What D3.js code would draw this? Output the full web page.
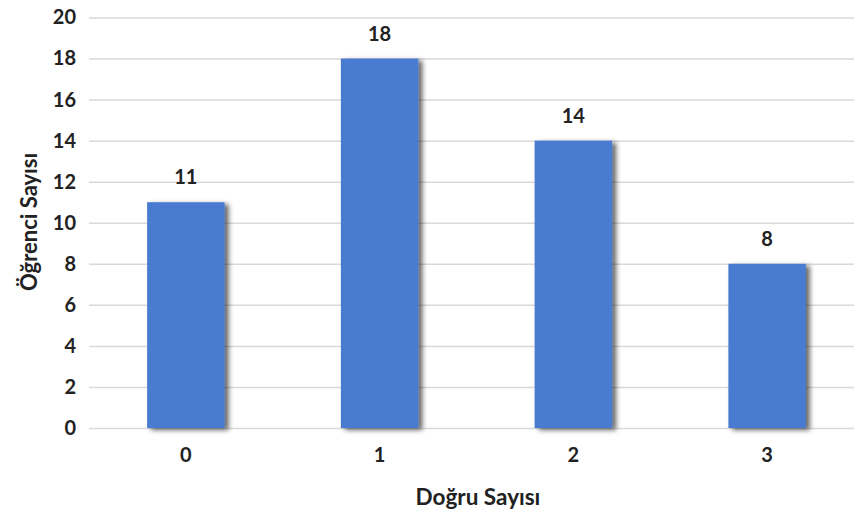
<!DOCTYPE html>
<html>
<head>
<meta charset="utf-8">
<script src="https://cdn.jsdelivr.net/npm/d3@7"></script>
<style>
  html, body { margin: 0; padding: 0; background: #fff; }
  svg { display: block; }
  text { font-family: Lato, "Open Sans", sans-serif; font-weight: 700; fill: #222; }
</style>
</head>
<body>
<svg id="chart" width="854" height="516"></svg>
<script>
// Number of correct answers (category) and number of students
const categories = ["0", "1", "2", "3"];
const studentCounts = [11, 18, 14, 8];
const yTicks = [0, 2, 4, 6, 8, 10, 12, 14, 16, 18, 20];
const xTitle = "Doğru Sayısı";
const yTitle = "Öğrenci Sayısı";

const svg = d3.select("#chart");
const W = 854, H = 516;
const plot = { left: 89, right: 864, top: 17.5, bottom: 428 };

const x = d3.scaleBand()
  .domain(categories)
  .range([plot.left, plot.right])
  .paddingInner(0.6)
  .paddingOuter(0.3);

const y = d3.scaleLinear()
  .domain([0, 20])
  .range([plot.bottom, plot.top]);

// soft shadow under each bar
const defs = svg.append("defs");
const f = defs.append("filter").attr("id", "barShadow")
  .attr("x", "-20%").attr("y", "-20%").attr("width", "150%").attr("height", "140%");
f.append("feDropShadow")
  .attr("dx", 4).attr("dy", 2).attr("stdDeviation", 2.8)
  .attr("flood-color", "#000").attr("flood-opacity", 0.6);

// horizontal gridlines with y tick labels
const yAxis = d3.axisLeft(y).tickValues(yTicks).tickSize(-(W - plot.left)).tickPadding(10);
const gy = svg.append("g")
  .attr("transform", `translate(${plot.left},0)`)
  .call(yAxis);
gy.select(".domain").remove();
gy.selectAll(".tick line").attr("stroke", "#d9d9d9").attr("stroke-width", 1.5);
gy.selectAll(".tick text")
  .attr("x", -13)
  .style("font-size", "20px")
  .style("font-family", "Lato, sans-serif")
  .style("font-weight", 700)
  .attr("fill", "#222");

// bars
svg.append("g").selectAll("rect")
  .data(categories)
  .join("rect")
  .attr("x", d => x(d))
  .attr("width", x.bandwidth())
  .attr("y", (d, i) => y(studentCounts[i]))
  .attr("height", (d, i) => y(0) - y(studentCounts[i]))
  .attr("fill", "#4a7bd0")
  .attr("filter", "url(#barShadow)");

// value labels above bars
svg.append("g").selectAll("text")
  .data(categories)
  .join("text")
  .attr("x", d => x(d) + x.bandwidth() / 2)
  .attr("y", (d, i) => y(studentCounts[i]) - 18)
  .attr("text-anchor", "middle")
  .style("font-size", "20px")
  .text((d, i) => studentCounts[i]);

// category labels
const xAxis = d3.axisBottom(x).tickSize(0).tickPadding(20);
const gx = svg.append("g")
  .attr("transform", `translate(0,${plot.bottom})`)
  .call(xAxis);
gx.select(".domain").remove();
gx.selectAll(".tick text")
  .style("font-size", "20px")
  .style("font-family", "Lato, sans-serif")
  .style("font-weight", 700)
  .attr("fill", "#222");

// axis titles
svg.append("text")
  .attr("x", 478)
  .attr("y", 505)
  .attr("text-anchor", "middle")
  .style("font-size", "22.5px")
  .text(xTitle);

svg.append("text")
  .attr("transform", "translate(37,222) rotate(-90)")
  .attr("text-anchor", "middle")
  .style("font-size", "22px")
  .text(yTitle);
</script>
</body>
</html>
